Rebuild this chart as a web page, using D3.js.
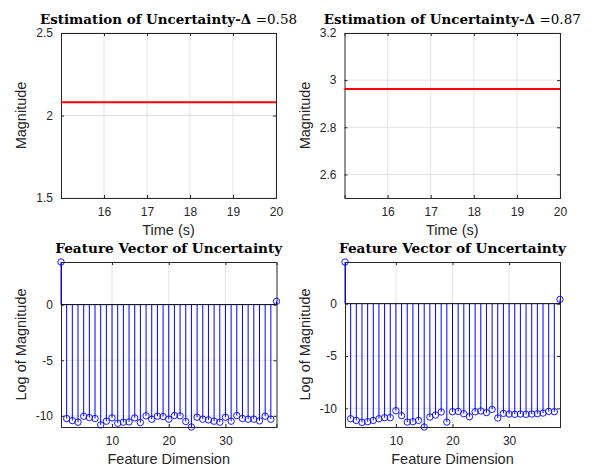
<!DOCTYPE html>
<meta charset="utf-8">
<style>
body { margin: 0; background: #fff; }
text { font-family: "Liberation Sans", Arial, sans-serif; fill: #262626; }
.ttl { font-family: "DejaVu Serif", "Liberation Serif", serif; fill: #000; font-size: 13px; }
.lab { font-size: 14.5px; }
</style>
<body>
<div id="chart"></div>
<script src="https://cdn.jsdelivr.net/npm/d3@7"></script>
<script>
// top panels: constant estimation line over time
var timeSpan = [15, 20];
var estLeft = [2.08, 2.08];
var estRight = [2.962, 2.962];
var deltaLeft = "0.58", deltaRight = "0.87";
var timeTicks = [16, 17, 18, 19, 20];
var magTicksLeft = [1.5, 2, 2.5];
var magTicksRight = [2.6, 2.8, 3, 3.2];

// bottom panels: feature vector (log magnitude), dimensions 1..39
var featLeft = [3.83, -10.24, -10.42, -10.57, -10.03, -10.15, -10.24, -10.81, -10.48, -10.18,
  -10.66, -10.57, -10.54, -10.18, -10.6, -10.0, -10.3, -10.03, -10.06, -10.3,
  -9.97, -10.0, -10.51, -11.0, -10.12, -10.3, -10.36, -10.48, -10.57, -10.12,
  -10.48, -9.97, -10.24, -10.3, -10.3, -10.45, -10.03, -10.3, 0.3];
var featRight = [3.98, -10.99, -11.15, -11.34, -11.27, -11.15, -10.99, -10.89, -10.89, -10.22,
  -10.7, -11.31, -11.27, -11.15, -11.78, -10.83, -10.64, -10.35, -11.31, -10.32,
  -10.29, -10.51, -10.8, -10.32, -10.25, -10.41, -10.1, -10.92, -10.48, -10.54,
  -10.57, -10.54, -10.57, -10.54, -10.51, -10.45, -10.29, -10.32, 0.41];
var featTicks = [10, 20, 30];
var logTicks = [-10, -5, 0];

var W = 593, H = 467;
var svg = d3.select("#chart").append("svg")
	.attr("width", W)
	.attr("height", H);
svg.append("rect").attr("width", W).attr("height", H).attr("fill", "#fff");

function panel(box, xDom, yDom, xTicks, yTicks, xLabel, yLabel, title, titleW) {
	var x = d3.scaleLinear().domain(xDom).range([box.l, box.r]);
	var y = d3.scaleLinear().domain(yDom).range([box.b, box.t]);
	var g = svg.append("g");

	// grid
	g.selectAll(".gx").data(xTicks).enter().append("line")
		.attr("x1", function(d) { return x(d); }).attr("x2", function(d) { return x(d); })
		.attr("y1", box.t).attr("y2", box.b)
		.attr("stroke", "#e3e3e3").attr("stroke-width", 1);
	g.selectAll(".gy").data(yTicks).enter().append("line")
		.attr("y1", function(d) { return y(d); }).attr("y2", function(d) { return y(d); })
		.attr("x1", box.l).attr("x2", box.r)
		.attr("stroke", "#e3e3e3").attr("stroke-width", 1);

	// axes (ticks inside, mirrored)
	var fmt = function(d) { return String(d); };
	g.append("g").attr("transform", "translate(0," + box.b + ")")
		.call(d3.axisBottom(x).tickValues(xTicks).tickSize(-3).tickPadding(9).tickFormat(fmt))
		.call(style);
	g.append("g").attr("transform", "translate(0," + box.t + ")")
		.call(d3.axisTop(x).tickValues(xTicks).tickSize(-3).tickFormat(""))
		.call(style);
	g.append("g").attr("transform", "translate(" + box.l + ",0)")
		.call(d3.axisLeft(y).tickValues(yTicks).tickSize(-3).tickPadding(8).tickFormat(fmt))
		.call(style);
	g.append("g").attr("transform", "translate(" + box.r + ",0)")
		.call(d3.axisRight(y).tickValues(yTicks).tickSize(-3).tickFormat(""))
		.call(style);

	// labels
	g.append("text").attr("class", "lab")
		.attr("x", (box.l + box.r) / 2).attr("y", box.b + 36.5)
		.attr("text-anchor", "middle").text(xLabel);
	g.append("text").attr("class", "lab")
		.attr("transform", "translate(" + (box.l - 35) + "," + ((box.t + box.b) / 2) + ") rotate(-90)")
		.attr("text-anchor", "middle").text(yLabel);

	// title (bold LaTeX-like serif, stretched to the original width)
	var t = g.append("text").attr("class", "ttl")
		.attr("x", (box.l + box.r) / 2).attr("y", box.t - 9)
		.attr("text-anchor", "middle")
		.attr("textLength", titleW)
		.attr("lengthAdjust", "spacingAndGlyphs");
	t.append("tspan").attr("font-weight", "bold").text(title[0]);
	if (title[1]) t.append("tspan").text(title[1]);

	return { g: g, x: x, y: y };
}

function style(sel) {
	sel.select(".domain").attr("stroke", "#262626").attr("stroke-width", 1);
	sel.selectAll(".tick line").attr("stroke", "#262626");
	sel.selectAll(".tick text").attr("fill", "#262626")
		.style("font-size", "12px").style("font-family", "Liberation Sans, Arial, sans-serif");
	sel.attr("font-size", null).attr("font-family", null);
}

function redLine(p, vals) {
	p.g.append("path")
		.datum(vals)
		.attr("fill", "none")
		.attr("stroke", "#ff0000")
		.attr("stroke-width", 2)
		.attr("d", d3.line()
			.x(function(d, i) { return p.x(timeSpan[i]); })
			.y(function(d) { return p.y(d); }));
}

function stems(p, vals) {
	var idx = d3.range(1, vals.length + 1);
	p.g.append("line")
		.attr("x1", p.x(1)).attr("x2", p.x(vals.length))
		.attr("y1", p.y(0)).attr("y2", p.y(0))
		.attr("stroke", "#000").attr("stroke-width", 1);
	p.g.selectAll(".stem").data(vals).enter().append("line")
		.attr("x1", function(d, i) { return p.x(idx[i]); })
		.attr("x2", function(d, i) { return p.x(idx[i]); })
		.attr("y1", p.y(0))
		.attr("y2", function(d) { return p.y(d); })
		.attr("stroke", "#0000ff").attr("stroke-width", 1);
	p.g.selectAll(".mk").data(vals).enter().append("circle")
		.attr("cx", function(d, i) { return p.x(idx[i]); })
		.attr("cy", function(d) { return p.y(d); })
		.attr("r", 3.2)
		.attr("fill", "none")
		.attr("stroke", "#0000ff").attr("stroke-width", 0.9);
}

var p1 = panel({ l: 61, r: 276, t: 33, b: 198 }, timeSpan, [1.5, 2.5], timeTicks, magTicksLeft,
	"Time (s)", "Magnitude", ["Estimation of Uncertainty-\u0394 ", "=" + deltaLeft], 257);
redLine(p1, estLeft);

var p2 = panel({ l: 344.5, r: 560, t: 33, b: 198 }, timeSpan, [2.5, 3.2], timeTicks, magTicksRight,
	"Time (s)", "Magnitude", ["Estimation of Uncertainty-\u0394 ", "=" + deltaRight], 257);
redLine(p2, estRight);

var p3 = panel({ l: 61, r: 276.5, t: 262, b: 427 }, [1, featLeft.length], d3.extent(featLeft), featTicks, logTicks,
	"Feature Dimension", "Log of Magnitude", ["Feature Vector of Uncertainty"], 227);
stems(p3, featLeft);

var p4 = panel({ l: 345, r: 560, t: 262, b: 427 }, [1, featRight.length], d3.extent(featRight), featTicks, logTicks,
	"Feature Dimension", "Log of Magnitude", ["Feature Vector of Uncertainty"], 227);
stems(p4, featRight);
</script>
</body>
